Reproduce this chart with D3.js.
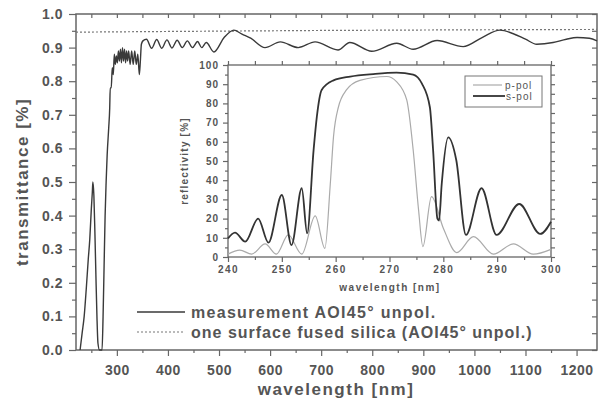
<!DOCTYPE html>
<html>
<head>
<meta charset="utf-8">
<script src="https://cdn.jsdelivr.net/npm/d3@7"></script>
<style>
  body { margin: 0; background: #fff; }
  text { font-family: "Liberation Sans", Arial, sans-serif; fill: #555; }
</style>
</head>
<body>
<div id="chart"></div>
<script>
// main transmittance curve
var mainWl = [228,232,236,240,244,247,250,252,253,255,257,259,261,263,266,270,271,273,275,277,279,281,284,286,287,289,291,293,295,297,299,301,303,305,307,309,311,313,315,317,319,321,323,326,329,332,335,338,341,344,346,348,351,358,368,378,388,398,408,418,428,438,448,458,466,475,490,510,529,545,562,590,620,655,688,733,756,799,848,880,927,978,1015,1050,1075,1100,1122,1154,1180,1201,1225,1240];
var mainT  = [0.0,0.05,0.10,0.18,0.27,0.33,0.42,0.47,0.50,0.46,0.35,0.22,0.10,0.02,0.0,0.0,0.0,0.10,0.25,0.40,0.50,0.58,0.66,0.72,0.78,0.78,0.84,0.82,0.88,0.85,0.875,0.855,0.89,0.86,0.895,0.855,0.90,0.86,0.895,0.855,0.89,0.86,0.89,0.85,0.89,0.85,0.89,0.85,0.88,0.82,0.86,0.91,0.92,0.925,0.898,0.924,0.898,0.923,0.899,0.922,0.90,0.92,0.90,0.918,0.90,0.915,0.887,0.93,0.952,0.94,0.928,0.90,0.917,0.90,0.917,0.893,0.915,0.889,0.913,0.895,0.921,0.903,0.93,0.952,0.942,0.925,0.91,0.915,0.925,0.93,0.928,0.92];

// one surface fused silica
var silicaWl = [220,400,700,1000,1240];
var silicaT  = [0.946,0.948,0.951,0.953,0.954];

// inset reflectivity
var sWl = [240,241.3,243.2,245.6,247.5,250,251.8,253.7,254.7,255.9,256.5,257.4,259.6,262.7,267,271.3,274.4,276,277.5,278.1,278.9,279.2,279.7,280.9,282.4,284.2,287.1,289.9,294.1,298,300];
var sR  = [9.7,12.7,8,20,7.5,32.3,6.2,35.8,12.3,55.7,73,87,92,94,95.3,96,95,90.4,78,55.7,20,19,38,62.3,50.5,11.5,35.8,11.5,27.6,12,18.4];
var pWl = [240,242.2,244.4,246.9,249,251.2,253.7,256.2,258,259,259.6,260.5,262,264.5,269.5,271.3,273.2,274.4,275.4,276.2,277.8,280,282.5,285.6,289.3,293,296.7,300];
var pR  = [1.5,3.6,1.5,6.8,1.5,11.5,1.5,21.4,4.5,38,62.7,78,87,92,94,91.3,81.8,55.7,24.5,5.4,31.4,15,2.3,10.6,1.5,6.8,1.5,4];

var mainXTicks = [300,400,500,600,700,800,900,1000,1100,1200];
var mainYTicks = [0,0.1,0.2,0.3,0.4,0.5,0.6,0.7,0.8,0.9,1.0];
var insetXTicks = [240,250,260,270,280,290,300];
var insetYTicks = [0,10,20,30,40,50,60,70,80,90,100];

var width = 599, height = 404;
var svg = d3.select("#chart").append("svg").attr("width", width).attr("height", height);

var x = d3.scaleLinear().domain([220, 1240]).range([76, 597]);
var y = d3.scaleLinear().domain([0, 1]).range([350, 14]);

var axisColor = "#666";

function styleAxis(g) {
  g.select(".domain").remove();
  g.selectAll("line").attr("stroke", axisColor).attr("stroke-width", 1.2);
}

// minor ticks
svg.append("g").attr("transform", "translate(76,0)")
  .call(d3.axisLeft(y).tickValues(d3.range(0.05, 1, 0.1)).tickSize(4).tickFormat(""))
  .call(styleAxis);
svg.append("g").attr("transform", "translate(76,0)")
  .call(d3.axisLeft(y).tickValues(mainYTicks).tickSize(7).tickPadding(6).tickFormat(d3.format(".1f")))
  .call(styleAxis)
  .selectAll("text").style("font-size", "14px").style("font-weight", "bold").attr("letter-spacing", "0.5");
svg.append("g").attr("transform", "translate(597,0)")
  .call(d3.axisLeft(y).tickValues(d3.range(0, 1.01, 0.05)).tickSize(5).tickFormat(""))
  .call(styleAxis);

svg.append("g").attr("transform", "translate(0,350)")
  .call(d3.axisBottom(x).tickValues(d3.range(250, 1240, 100)).tickSize(3).tickFormat(""))
  .call(styleAxis);
svg.append("g").attr("transform", "translate(0,350)")
  .call(d3.axisBottom(x).tickValues(mainXTicks).tickSize(6).tickPadding(9).tickFormat(d3.format("d")))
  .call(styleAxis)
  .selectAll("text").style("font-size", "14px").style("font-weight", "bold").attr("letter-spacing", "0.5");
svg.append("g").attr("transform", "translate(0,14)")
  .call(d3.axisBottom(x).tickValues(d3.range(250, 1240, 50)).tickSize(4).tickFormat(""))
  .call(styleAxis);

svg.append("rect").attr("x", 76).attr("y", 14).attr("width", 521).attr("height", 336)
  .attr("fill", "none").attr("stroke", axisColor).attr("stroke-width", 1.5);

// silica reference (dotted)
var silicaLine = d3.line().x(function(d, i) { return x(silicaWl[i]); }).y(function(d) { return y(d); });
svg.append("path").datum(silicaT).attr("d", silicaLine)
  .attr("fill", "none").attr("stroke", "#777").attr("stroke-width", 1.2).attr("stroke-dasharray", "2,2");

// measurement
var mainLine = d3.line().curve(d3.curveMonotoneX)
  .x(function(d, i) { return x(mainWl[i]); }).y(function(d) { return y(d); });
svg.append("path").datum(mainT).attr("d", mainLine)
  .attr("fill", "none").attr("stroke", "#3a3a3a").attr("stroke-width", 1.4);

// axis titles
svg.append("text").attr("transform", "translate(28,182) rotate(-90)").attr("text-anchor", "middle")
  .style("font-size", "17px").style("font-weight", "bold").attr("letter-spacing", "1.5")
  .text("transmittance [%]");
svg.append("text").attr("x", 336).attr("y", 395).attr("text-anchor", "middle")
  .style("font-size", "17px").style("font-weight", "bold").attr("letter-spacing", "1.5")
  .text("wavelength [nm]");

// main legend
svg.append("line").attr("x1", 137).attr("x2", 185).attr("y1", 312).attr("y2", 312)
  .attr("stroke", "#3a3a3a").attr("stroke-width", 1.4);
svg.append("line").attr("x1", 137).attr("x2", 185).attr("y1", 332).attr("y2", 332)
  .attr("stroke", "#777").attr("stroke-width", 1.2).attr("stroke-dasharray", "2,2");
svg.append("text").attr("x", 191).attr("y", 318).style("font-size", "16px").style("font-weight", "bold")
  .attr("letter-spacing", "1.3").text("measurement AOI45° unpol.");
svg.append("text").attr("x", 191).attr("y", 338).style("font-size", "16px").style("font-weight", "bold")
  .attr("letter-spacing", "1").text("one surface fused silica (AOI45° unpol.)");

// ---- inset ----
var ix = d3.scaleLinear().domain([240, 300]).range([228, 551]);
var iy = d3.scaleLinear().domain([0, 100]).range([257, 65]);

svg.append("rect").attr("x", 228).attr("y", 65).attr("width", 323).attr("height", 192).attr("fill", "#fff");

svg.append("g").attr("transform", "translate(228,0)")
  .call(d3.axisLeft(iy).tickValues(d3.range(5, 100, 10)).tickSize(3).tickFormat(""))
  .call(styleAxis);
svg.append("g").attr("transform", "translate(228,0)")
  .call(d3.axisLeft(iy).tickValues(insetYTicks).tickSize(5).tickPadding(4).tickFormat(d3.format("d")))
  .call(styleAxis)
  .selectAll("text").style("font-size", "10px").style("font-weight", "bold").attr("letter-spacing", "1");
svg.append("g").attr("transform", "translate(551,0)")
  .call(d3.axisRight(iy).tickValues(d3.range(0, 101, 5)).tickSize(4).tickFormat(""))
  .call(styleAxis);
svg.append("g").attr("transform", "translate(0,257)")
  .call(d3.axisBottom(ix).tickValues(d3.range(245, 300, 10)).tickSize(3).tickFormat(""))
  .call(styleAxis);
svg.append("g").attr("transform", "translate(0,257)")
  .call(d3.axisBottom(ix).tickValues(insetXTicks).tickSize(5).tickPadding(4).tickFormat(d3.format("d")))
  .call(styleAxis)
  .selectAll("text").style("font-size", "10px").style("font-weight", "bold").attr("letter-spacing", "1.5");
svg.append("g").attr("transform", "translate(0,65)")
  .call(d3.axisTop(ix).tickValues(d3.range(240, 301, 5)).tickSize(4).tickFormat(""))
  .call(styleAxis);

svg.append("rect").attr("x", 228).attr("y", 65).attr("width", 323).attr("height", 192)
  .attr("fill", "none").attr("stroke", axisColor).attr("stroke-width", 1.3);

var pLine = d3.line().curve(d3.curveMonotoneX)
  .x(function(d, i) { return ix(pWl[i]); }).y(function(d) { return iy(d); });
var sLine = d3.line().curve(d3.curveMonotoneX)
  .x(function(d, i) { return ix(sWl[i]); }).y(function(d) { return iy(d); });
svg.append("path").datum(pR).attr("d", pLine).attr("fill", "none").attr("stroke", "#aaa").attr("stroke-width", 1.2);
svg.append("path").datum(sR).attr("d", sLine).attr("fill", "none").attr("stroke", "#333").attr("stroke-width", 1.8);

svg.append("text").attr("transform", "translate(188,161) rotate(-90)").attr("text-anchor", "middle")
  .style("font-size", "10px").style("font-weight", "bold").attr("letter-spacing", "1.2")
  .text("reflectivity [%]");
svg.append("text").attr("x", 390).attr("y", 291).attr("text-anchor", "middle")
  .style("font-size", "10px").style("font-weight", "bold").attr("letter-spacing", "1.5")
  .text("wavelength [nm]");

// inset legend
svg.append("rect").attr("x", 465).attr("y", 76).attr("width", 77).attr("height", 31)
  .attr("fill", "#fff").attr("stroke", "#777").attr("stroke-width", 1);
svg.append("line").attr("x1", 473).attr("x2", 502).attr("y1", 85).attr("y2", 85)
  .attr("stroke", "#aaa").attr("stroke-width", 1.2);
svg.append("line").attr("x1", 473).attr("x2", 505).attr("y1", 96).attr("y2", 96)
  .attr("stroke", "#333").attr("stroke-width", 1.8);
svg.append("text").attr("x", 505).attr("y", 89).style("font-size", "10px").attr("letter-spacing", "1")
  .text("p-pol");
svg.append("text").attr("x", 506).attr("y", 100).style("font-size", "10px").attr("letter-spacing", "1")
  .text("s-pol");
</script>
</body>
</html>
